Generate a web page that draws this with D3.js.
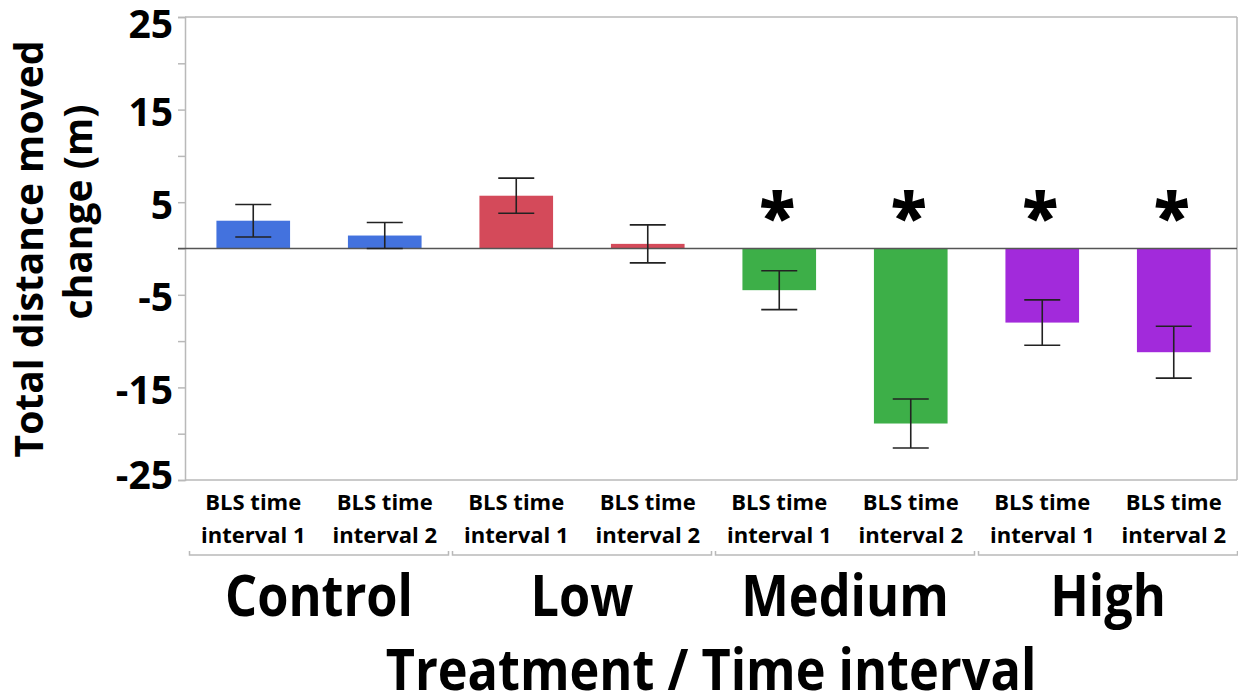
<!DOCTYPE html>
<html>
<head>
<meta charset="utf-8">
<script src="https://cdn.jsdelivr.net/npm/d3@7"></script>
<style>
  body { margin: 0; background: #fff; }
  text { font-family: "Open Sans", "Noto Sans", sans-serif; font-weight: 700; fill: #000; }
</style>
</head>
<body>
<svg id="chart" width="1238" height="700"></svg>
<script>
// data
var treatments = ["Control", "Low", "Medium", "High"]
var intervals = ["BLS time interval 1", "BLS time interval 2"]
var intervalLines = [["BLS time", "interval 1"], ["BLS time", "interval 2"]]
var means = [3.0, 1.4, 5.7, 0.5, -4.5, -18.9, -8.0, -11.2]
var stdErrs = [1.75, 1.4, 1.9, 2.05, 2.1, 2.65, 2.45, 2.8]
var significant = [false, false, false, false, true, true, true, true]
var treatmentColors = ["#4372de", "#d44a5a", "#3daf48", "#a22adb"]
var yTicks = [-25, -20, -15, -10, -5, 0, 5, 10, 15, 20, 25]
var yLabels = [-25, -15, -5, 5, 15, 25]
var yTitle = ["Total distance moved", "change (m)"]
var xTitle = "Treatment / Time interval"

var rows = []
treatments.forEach(function (t, ti) {
  intervals.forEach(function (iv, ii) {
    var k = ti * intervals.length + ii
    rows.push({
      key: t + "|" + iv,
      treatment: t,
      ti: ti,
      ii: ii,
      mean: means[k],
      se: stdErrs[k],
      sig: significant[k]
    })
  })
})

var svg = d3.select("#chart")
var plotLeft = 185, plotRight = 1237, plotTop = 17, plotBottom = 480

var x = d3.scaleBand()
  .domain(rows.map(function (d) { return d.key }))
  .range([187.5, 1239.5])
  .paddingInner(0.44)
  .paddingOuter(0.22)

var y = d3.scaleLinear().domain([-25, 25]).range([plotBottom, plotTop])

var gray = "#b9b9b9"

// frame
svg.append("line").attr("x1", plotLeft).attr("x2", plotRight).attr("y1", plotTop).attr("y2", plotTop)
  .attr("stroke", gray).attr("stroke-width", 1.5)
svg.append("line").attr("x1", plotRight).attr("x2", plotRight).attr("y1", plotTop).attr("y2", plotBottom)
  .attr("stroke", gray).attr("stroke-width", 1.5)
svg.append("line").attr("x1", plotLeft).attr("x2", plotRight).attr("y1", plotBottom).attr("y2", plotBottom)
  .attr("stroke", gray).attr("stroke-width", 1.5)

// y axis
var yAxis = d3.axisLeft(y).tickValues(yTicks).tickSize(7).tickFormat("")
var ya = svg.append("g").attr("transform", "translate(" + plotLeft + ",0)").call(yAxis)
ya.select(".domain").attr("stroke", gray).attr("stroke-width", 1.5)
ya.selectAll(".tick line").attr("stroke", gray).attr("stroke-width", 1.5)

svg.selectAll(".ylab").data(yLabels).enter().append("text")
  .attr("class", "ylab")
  .attr("x", 173)
  .attr("y", function (d) { return Math.max(24, Math.min(475, y(d) + 3)) })
  .attr("dy", "0.35em")
  .attr("text-anchor", "end")
  .style("font-size", "39px")
  .text(function (d) { return d })

// bars
svg.selectAll(".bar").data(rows).enter().append("rect")
  .attr("class", "bar")
  .attr("x", function (d) { return x(d.key) })
  .attr("width", x.bandwidth())
  .attr("y", function (d) { return y(Math.max(0, d.mean)) })
  .attr("height", function (d) { return Math.abs(y(d.mean) - y(0)) })
  .attr("fill", function (d) { return treatmentColors[d.ti] })

// zero reference line
svg.append("line").attr("x1", 178).attr("x2", plotRight).attr("y1", y(0)).attr("y2", y(0))
  .attr("stroke", "#555").attr("stroke-width", 1.6)

// error bars
var cap = 18
var eb = svg.selectAll(".err").data(rows).enter().append("g").attr("class", "err")
  .attr("stroke", "#222").attr("stroke-width", 1.6)
eb.append("line")
  .attr("x1", function (d) { return x(d.key) + x.bandwidth() / 2 })
  .attr("x2", function (d) { return x(d.key) + x.bandwidth() / 2 })
  .attr("y1", function (d) { return y(d.mean + d.se) })
  .attr("y2", function (d) { return y(d.mean - d.se) })
eb.append("line")
  .attr("x1", function (d) { return x(d.key) + x.bandwidth() / 2 - cap })
  .attr("x2", function (d) { return x(d.key) + x.bandwidth() / 2 + cap })
  .attr("y1", function (d) { return y(d.mean + d.se) })
  .attr("y2", function (d) { return y(d.mean + d.se) })
eb.append("line")
  .attr("x1", function (d) { return x(d.key) + x.bandwidth() / 2 - cap })
  .attr("x2", function (d) { return x(d.key) + x.bandwidth() / 2 + cap })
  .attr("y1", function (d) { return y(d.mean - d.se) })
  .attr("y2", function (d) { return y(d.mean - d.se) })

// significance stars
svg.selectAll(".star").data(rows.filter(function (d) { return d.sig })).enter().append("text")
  .attr("class", "star")
  .attr("x", function (d) { return x(d.key) + x.bandwidth() / 2 - 2 })
  .attr("y", 240)
  .attr("text-anchor", "middle")
  .style("font-size", "66px")
  .style("font-weight", 800)
  .text("*")

// interval tick labels
var tl = svg.selectAll(".xlab").data(rows).enter().append("text")
  .attr("class", "xlab")
  .attr("text-anchor", "middle")
  .style("font-size", "22px")
tl.append("tspan")
  .attr("x", function (d) { return x(d.key) + x.bandwidth() / 2 })
  .attr("y", 510)
  .text(function (d) { return intervalLines[d.ii][0] })
tl.append("tspan")
  .attr("x", function (d) { return x(d.key) + x.bandwidth() / 2 })
  .attr("y", 542.7)
  .text(function (d) { return intervalLines[d.ii][1] })

// group brackets and labels
var step = x.step()
var groups = treatments.map(function (t, ti) {
  var first = x(t + "|" + intervals[0]) - x.paddingOuter() * step
  var last = x(t + "|" + intervals[intervals.length - 1]) + x.bandwidth() + x.paddingOuter() * step
  return { name: t, x0: first + 2, x1: last - 2 }
})
svg.selectAll(".bracket").data(groups).enter().append("path")
  .attr("class", "bracket")
  .attr("d", function (d) {
    return "M" + d.x0 + ",551V555H" + d.x1 + "V551"
  })
  .attr("fill", "none").attr("stroke", gray).attr("stroke-width", 1.5)

svg.selectAll(".glab").data(groups).enter().append("text")
  .attr("class", "glab")
  .attr("transform", function (d) { return "translate(" + (d.x0 + d.x1) / 2 + ",616) scale(0.87,1)" })
  .attr("text-anchor", "middle")
  .style("font-size", "58px")
  .text(function (d) { return d.name })

// axis titles
svg.append("text")
  .attr("transform", "translate(" + (plotLeft + plotRight) / 2 + ",690) scale(0.87,1)")
  .attr("text-anchor", "middle")
  .style("font-size", "58px")
  .text(xTitle)

svg.append("text")
  .attr("transform", "translate(43,249) rotate(-90)")
  .attr("text-anchor", "middle")
  .style("font-size", "39px")
  .text(yTitle[0])
svg.append("text")
  .attr("transform", "translate(92,212) rotate(-90)")
  .attr("text-anchor", "middle")
  .style("font-size", "39px")
  .text(yTitle[1])
</script>
</body>
</html>
